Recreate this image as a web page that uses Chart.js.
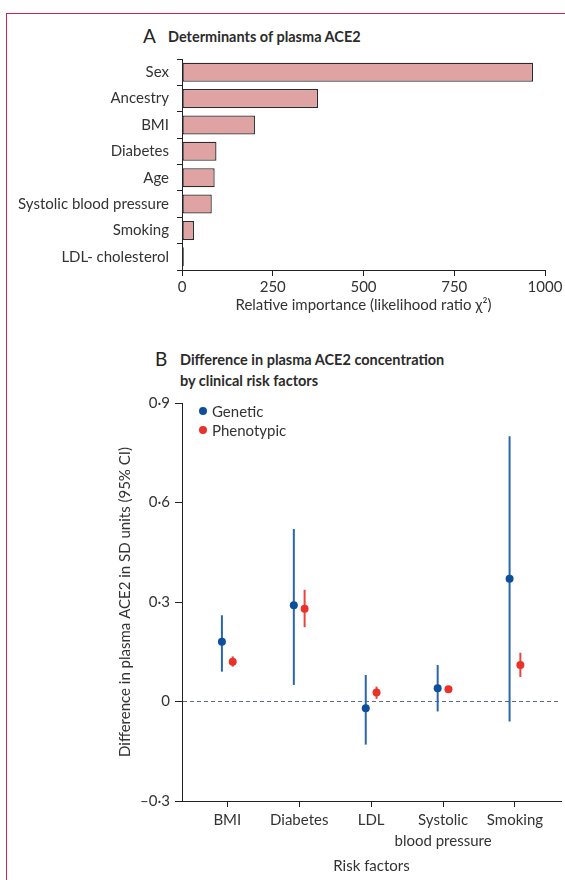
<!DOCTYPE html>
<html><head><meta charset="utf-8">
<script src="https://cdn.jsdelivr.net/npm/chart.js@4.4.0/dist/chart.umd.min.js"></script>
<style>
html,body{margin:0;padding:0;background:#fff;}
body{width:565px;height:880px;position:relative;overflow:hidden;font-family:Lato,"Noto Sans",sans-serif;color:#333;}
.frame-top{position:absolute;left:6px;top:13px;width:559px;height:0;border-top:1px solid #c8254f;}
.frame-left{position:absolute;left:6px;top:13px;width:0;height:867px;border-left:1px solid #c8254f;}
.t{position:absolute;white-space:nowrap;line-height:20px;}
.b{font-weight:bold;font-size:14.5px;color:#2b2b2b;}
.big{font-size:19px;color:#222;}
.leg{position:absolute;font-size:15px;line-height:18px;white-space:nowrap;color:#333;}
.dot{position:absolute;width:8px;height:8px;border-radius:50%;}
#wrapA{position:absolute;left:0;top:42px;width:565px;height:288px;}
#wrapB{position:absolute;left:0;top:389px;width:565px;height:491px;}
</style>
</head>
<body>
<div class="frame-top"></div><div class="frame-left"></div>
<div class="t big" style="left:143px;top:26px;">A</div>
<div class="t b" style="left:168px;top:27px;">Determinants of plasma ACE2</div>
<div class="t big" style="left:155px;top:349px;">B</div>
<div class="t b" style="left:180px;top:350px;">Difference in plasma ACE2 concentration</div>
<div class="t b" style="left:180px;top:371px;">by clinical risk factors</div>
<div id="wrapA"><canvas id="chartA" width="565" height="288"></canvas></div>
<div id="wrapB"><canvas id="chartB" width="565" height="491"></canvas></div>
<div id="legend"></div>
<script>
// Panel A data
const factorsA = ['Sex','Ancestry','BMI','Diabetes','Age','Systolic blood pressure','Smoking','LDL- cholesterol'];
const importanceA = [967, 375, 201, 95, 90, 82, 33, 5];
const xTicksA = [0, 250, 500, 750, 1000];

// Panel B data
const riskFactors = ['BMI', 'Diabetes', 'LDL', ['Systolic', 'blood pressure'], 'Smoking'];
const geneticEst  = [0.18, 0.29, -0.02, 0.04, 0.37];
const geneticLow  = [0.09, 0.05, -0.13, -0.03, -0.06];
const geneticHigh = [0.26, 0.52, 0.08, 0.11, 0.80];
const phenoEst    = [0.12, 0.28, 0.027, 0.037, 0.11];
const phenoLow    = [0.105, 0.224, 0.008, 0.032, 0.074];
const phenoHigh   = [0.136, 0.337, 0.045, 0.042, 0.147];
const yTicksB = [-0.3, 0, 0.3, 0.6, 0.9];
const seriesNames = ['Genetic', 'Phenotypic'];

const FONT = 'Lato, "Noto Sans", sans-serif';
const FS = 15;
const TXT = '#333';
const AX = '#222';

new Chart(document.getElementById('chartA'), {
  type: 'bar',
  data: {
    labels: factorsA,
    datasets: [{
      data: importanceA,
      backgroundColor: '#e0a3a3',
      borderColor: '#2a2a2a',
      borderWidth: 1.3,
      borderSkipped: false,
      categoryPercentage: 1,
      barPercentage: 0.72
    }]
  },
  options: {
    indexAxis: 'y',
    responsive: false,
    animation: false,
    layout: { padding: { top: 0, right: 20, left: 0, bottom: 0 } },
    plugins: { legend: { display: false }, tooltip: { enabled: false } },
    scales: {
      y: {
        type: 'category',
        grid: { offset: true, drawOnChartArea: false, color: AX, tickLength: 5, lineWidth: 1 },
        border: { color: AX, width: 1 },
        ticks: { color: TXT, font: { family: FONT, size: FS }, padding: 8, autoSkip: false },
        afterFit: s => { s.width = 182; }
      },
      x: {
        type: 'linear', min: 0, max: 1000,
        afterBuildTicks: s => { s.ticks = xTicksA.map(v => ({ value: v })); },
        grid: { drawOnChartArea: false, color: AX, tickLength: 6 },
        border: { color: AX, width: 1 },
        ticks: { color: TXT, font: { family: FONT, size: FS }, padding: 2, autoSkip: false, callback: v => String(v) },
        title: { display: true, text: 'Relative importance (likelihood ratio χ²)', color: TXT,
                 font: { family: FONT, size: FS }, padding: { top: 0, bottom: 16 } },
        afterFit: s => { s.height = 60; }
      }
    }
  }
});

const blue = '#0d4f9c', blueBar = '#2a66ab', red = '#e8322a', redBar = '#e8463c';
const offsets = [-0.075, 0.075];
function pts(est, lo, hi, off) {
  return est.map((v, i) => ({ x: i + 1 + off, y: v, lo: lo[i], hi: hi[i] }));
}

const errorBars = {
  id: 'errorBars',
  beforeDatasetsDraw(chart) {
    const { ctx, scales: { x, y } } = chart;
    chart.data.datasets.forEach(ds => {
      ctx.save();
      ctx.strokeStyle = ds.errorColor;
      ctx.lineWidth = 2;
      ds.data.forEach(p => {
        const px = x.getPixelForValue(p.x);
        ctx.beginPath();
        ctx.moveTo(px, y.getPixelForValue(p.lo));
        ctx.lineTo(px, y.getPixelForValue(p.hi));
        ctx.stroke();
      });
      ctx.restore();
    });
  }
};

new Chart(document.getElementById('chartB'), {
  type: 'scatter',
  data: {
    datasets: [
      { label: seriesNames[0], data: pts(geneticEst, geneticLow, geneticHigh, offsets[0]),
        backgroundColor: blue, borderColor: blue, pointRadius: 4, borderWidth: 0, errorColor: blueBar },
      { label: seriesNames[1], data: pts(phenoEst, phenoLow, phenoHigh, offsets[1]),
        backgroundColor: red, borderColor: red, pointRadius: 4, borderWidth: 0, errorColor: redBar }
    ]
  },
  options: {
    responsive: false,
    animation: false,
    layout: { padding: { top: 0, right: 0, left: 0, bottom: 0 } },
    plugins: { legend: { display: false }, tooltip: { enabled: false } },
    scales: {
      x: {
        type: 'linear', min: 0.37, max: 5.64,
        afterBuildTicks: s => { s.ticks = riskFactors.map((_, i) => ({ value: i + 1 })); },
        grid: { drawOnChartArea: false, color: AX, tickLength: 6 },
        border: { color: AX, width: 1 },
        ticks: { color: TXT, font: { family: FONT, size: FS, lineHeight: 1.4 }, padding: 3, maxRotation: 0,
                 autoSkip: false, callback: v => riskFactors[v - 1] },
        title: { display: true, text: 'Risk factors', color: TXT,
                 font: { family: FONT, size: FS }, padding: { top: 0, bottom: 5 } },
        afterFit: s => { s.height = 79; }
      },
      y: {
        type: 'linear', min: -0.3, max: 0.9,
        afterBuildTicks: s => { s.ticks = yTicksB.map(v => ({ value: v })); },
        grid: {
          drawOnChartArea: true,
          color: c => (c.tick && Math.abs(c.tick.value) < 1e-9) ? '#5f6e78' : 'rgba(0,0,0,0)',
          tickColor: AX, tickLength: 7, tickBorderDash: []
        },
        border: { color: AX, width: 1, dash: [4, 3] },
        ticks: { color: TXT, font: { family: FONT, size: FS }, padding: 5, autoSkip: false,
                 callback: v => v === 0 ? '0' : (v < 0 ? '–' : '') + Math.abs(v).toFixed(1).replace('.', '·') },
        title: { display: true, text: 'Difference in plasma ACE2 in SD units (95% CI)', color: TXT,
                 font: { family: FONT, size: FS }, padding: { top: 116, bottom: 0 } },
        afterFit: s => { s.width = 182; }
      }
    }
  },
  plugins: [errorBars]
});

// legend
const legendEl = document.getElementById('legend');
[[seriesNames[0], blue, 411], [seriesNames[1], red, 430]].forEach(([name, col, cy]) => {
  const d = document.createElement('div');
  d.className = 'dot'; d.style.background = col;
  d.style.left = (203 - 4) + 'px'; d.style.top = (cy - 4) + 'px';
  legendEl.appendChild(d);
  const t = document.createElement('div');
  t.className = 'leg'; t.textContent = name;
  t.style.left = '212px'; t.style.top = (cy - 9) + 'px';
  legendEl.appendChild(t);
});
</script>
</body></html>
